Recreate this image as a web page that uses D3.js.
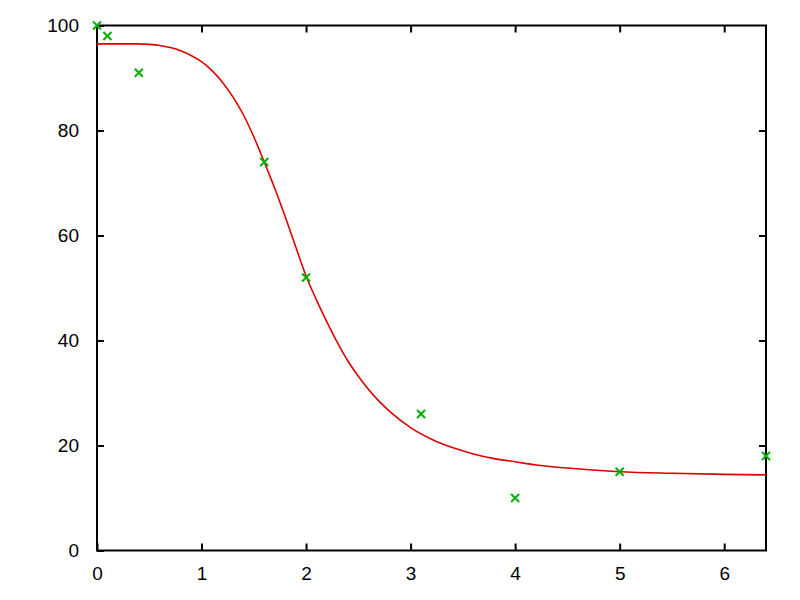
<!DOCTYPE html>
<html>
<head>
<meta charset="utf-8">
<script src="https://cdn.jsdelivr.net/npm/d3@7"></script>
<style>
  body { margin: 0; background: #fff; }
  svg text { font-family: "Liberation Sans", Arial, sans-serif; font-size: 19px; fill: #000; }
</style>
</head>
<body>
<div id="chart"></div>
<script>
// measured points
var pointX = [0, 0.1, 0.4, 1.6, 2, 3.1, 4, 5, 6.4];
var pointY = [100, 98, 91, 74, 52, 26, 10, 15, 18];

// fitted curve
var curveX = [0, 0.2, 0.4, 0.5, 0.6, 0.7, 0.8, 0.9, 1.0, 1.1, 1.2, 1.3, 1.4, 1.5, 1.6, 1.7, 1.8, 1.9, 2.0,
  2.1, 2.2, 2.3, 2.4, 2.5, 2.6, 2.7, 2.8, 3.0, 3.2, 3.4, 3.6, 3.8, 4.0, 4.2, 4.5, 5.0, 5.5, 6.0, 6.4];
var curveY = [96.5, 96.5, 96.5, 96.4, 96.2, 95.8, 95.2, 94.3, 93.1, 91.4, 89.2, 86.4, 83.0, 78.8, 74.0, 69.0, 63.6, 57.9, 52.3,
  47.7, 43.5, 39.6, 36.1, 33.2, 30.6, 28.4, 26.5, 23.4, 21.2, 19.6, 18.4, 17.5, 16.9, 16.3, 15.7, 15.0, 14.7, 14.5, 14.4];

var xTicks = [0, 1, 2, 3, 4, 5, 6];
var yTicks = [0, 20, 40, 60, 80, 100];

var svgWidth = 800;
var svgHeight = 600;
var margin = { top: 25.5, right: 34, bottom: 49.5, left: 97 };
var width = svgWidth - margin.left - margin.right;
var height = svgHeight - margin.top - margin.bottom;

var svg = d3.select("#chart")
  .append("svg")
  .attr("width", svgWidth)
  .attr("height", svgHeight);

var chartGroup = svg.append("g")
  .attr("transform", `translate(${margin.left}, ${margin.top})`);

var xScale = d3.scaleLinear().domain([0, 6.4]).range([0, width]);
var yScale = d3.scaleLinear().domain([0, 100]).range([height, 0]);

var tickLen = 7;

// axes: ticks point inward, mirrored on top/right
function styleAxis(g) {
  g.select(".domain").remove();
  g.selectAll(".tick line").attr("stroke", "#000").attr("stroke-width", 2);
}

chartGroup.append("g")
  .attr("transform", `translate(0, ${height})`)
  .call(d3.axisBottom(xScale).tickValues(xTicks).tickFormat(d3.format("d")).tickSize(-tickLen).tickPadding(16))
  .call(styleAxis);

chartGroup.append("g")
  .call(d3.axisTop(xScale).tickValues(xTicks.slice(1)).tickSize(-tickLen).tickFormat(""))
  .call(styleAxis);

chartGroup.append("g")
  .call(d3.axisLeft(yScale).tickValues(yTicks).tickFormat(d3.format("d")).tickSize(-tickLen).tickPadding(18))
  .call(styleAxis);

chartGroup.append("g")
  .attr("transform", `translate(${width}, 0)`)
  .call(d3.axisRight(yScale).tickValues(yTicks.slice(1, -1)).tickSize(-tickLen).tickFormat(""))
  .call(styleAxis);

chartGroup.selectAll(".tick text").attr("font-family", null).attr("font-size", null);

chartGroup.append("rect")
  .attr("width", width)
  .attr("height", height)
  .attr("fill", "none")
  .attr("stroke", "#000")
  .attr("stroke-width", 2);

// curve
var line = d3.line()
  .x((d, i) => xScale(curveX[i]))
  .y(d => yScale(d))
  .curve(d3.curveMonotoneX);

chartGroup.append("path")
  .datum(curveY)
  .attr("d", line)
  .attr("fill", "none")
  .attr("stroke", "#dd0000")
  .attr("stroke-width", 1.6);

// point markers (x shaped)
var s = 4;
chartGroup.selectAll(".pt")
  .data(pointY)
  .enter()
  .append("path")
  .attr("class", "pt")
  .attr("transform", (d, i) => `translate(${xScale(pointX[i])}, ${yScale(d)})`)
  .attr("d", `M${-s},${-s}L${s},${s}M${-s},${s}L${s},${-s}`)
  .attr("stroke", "#00b000")
  .attr("stroke-width", 2)
  .attr("fill", "none");
</script>
</body>
</html>
